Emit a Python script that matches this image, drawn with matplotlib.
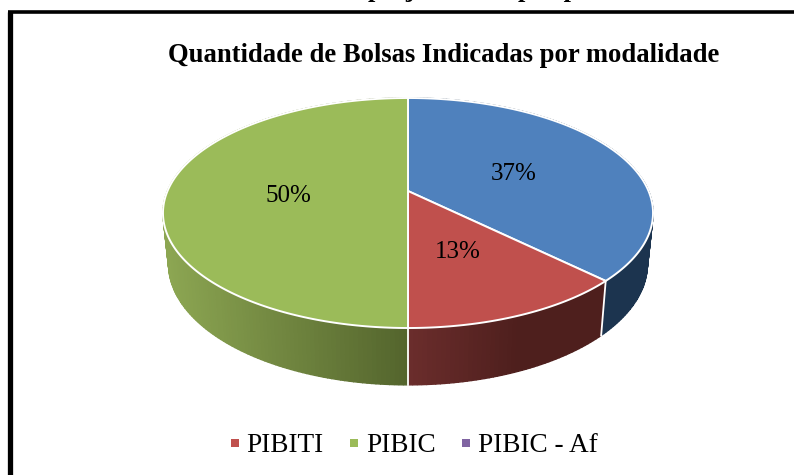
#!/usr/bin/env python
"""
Pie chart with a fake 3D look, drawn in pixel coordinates
"""
import numpy as np
import matplotlib
matplotlib.use('Agg')
import matplotlib.pyplot as plt

title = 'Quantidade de Bolsas Indicadas por modalidade'
# line of the page above the chart, only the descenders survive the crop
cropped_words = ['projetos', 'por professor']
labels = ['', 'PIBITI', 'PIBIC', 'PIBIC - Af']
values = [37.4, 12.6, 50.0, 0.0]
top_colors = ['#4f81bd', '#c0504d', '#9bbb59', '#8064a2']


def project(theta, y0=191.0, sy=1.0, sx=1.0):
    # theta clockwise from the back of the pie, perspective squash towards the viewer
    k = 0.1913
    u = np.sin(theta)
    v = -np.cos(theta)
    d = 1 - k * v
    return 408 + sx * 240.5 * u / d, y0 + sy * 110.8 * v / d


def side_color(i, x):
    if i == 2:
        t = np.clip((x - 165) / 240.0, 0, 1)
        a, b = np.array([0x8c, 0xa6, 0x52]), np.array([0x54, 0x65, 0x2d])
    elif i == 1:
        t = np.clip((x - 408) / 110.0, 0, 1)
        a, b = np.array([0x6b, 0x2d, 0x2c]), np.array([0x4e, 0x1f, 0x1d])
    else:
        t = 0
        a, b = np.array([0x1c, 0x34, 0x4f]), np.array([0x1c, 0x34, 0x4f])
    return (a + (b - a) * t) / 255.0


fig = plt.figure(figsize=(7.94, 4.75), dpi=100)
ax = fig.add_axes([0, 0, 1, 1])
ax.set_xlim(0, 794)
ax.set_ylim(475, 0)
ax.axis('off')

plt.rcParams['font.family'] = ['Liberation Serif']

# frame, only left and top sides are inside the crop
ax.plot([9.5, 9.5], [475, 11.7], color='black', lw=3.8, solid_capstyle='butt')
ax.plot([7.6, 794], [11.7, 11.7], color='black', lw=2.6, solid_capstyle='butt')
for word, wx in zip(cropped_words, [368, 518]):
    ax.text(wx, -2.5, word, fontsize=19, fontweight='bold', ha='left', va='baseline', clip_on=False)

ax.text(443.5, 56, title, fontsize=19.15, fontweight='bold', ha='center', va='center')

edges = np.concatenate([[0], np.cumsum(values)]) / np.sum(values) * 2 * np.pi

# side walls first, as thin strips so the shading can change along x
for i in range(len(values)):
    if values[i] == 0:
        continue
    n = max(int(values[i] * 4), 2)
    th = np.linspace(edges[i], edges[i + 1], n + 1)
    xt, yt = project(th)
    xb, yb = project(th, y0=241.0, sy=1.05, sx=0.977)
    for j in range(n):
        c = side_color(i, (xt[j] + xt[j + 1]) / 2)
        ax.fill([xt[j], xt[j + 1], xb[j + 1], xb[j]], [yt[j], yt[j + 1], yb[j + 1], yb[j]],
                facecolor=c, edgecolor=c, lw=1.0, zorder=2)

# white seams between the walls, only the ones facing the viewer
for e in edges[1:3]:
    xt, yt = project(e)
    xb, yb = project(e, y0=241.0, sy=1.05, sx=0.977)
    ax.plot([xt, xb], [yt, yb], color='white', lw=1.3, zorder=3)

# top face
for i in range(len(values)):
    if values[i] == 0:
        continue
    th = np.linspace(edges[i], edges[i + 1], 200)
    xt, yt = project(th)
    ax.fill(np.r_[408, xt], np.r_[191, yt], facecolor=top_colors[i], edgecolor='white', lw=1.4, zorder=4)

# percent labels
label_pos = [(513.5, 174), (457.5, 252), (288, 196)]
for i, (lx, ly) in enumerate(label_pos):
    ax.text(lx, ly, '%.0f%%' % values[i], fontsize=18, ha='center', va='center', color='black', zorder=5)

# legend, the first slice has no entry in the original
legend_squares = [231, 350, 462]
legend_texts = [246.5, 366, 478]
for i, (sq, tx) in enumerate(zip(legend_squares, legend_texts)):
    ax.fill([sq, sq + 8, sq + 8, sq], [439, 439, 447, 447], color=top_colors[i + 1], lw=0)
    ax.text(tx, 445, labels[i + 1], fontsize=19.6, ha='left', va='center', color='black')

fig.savefig('out.png', dpi=100)
